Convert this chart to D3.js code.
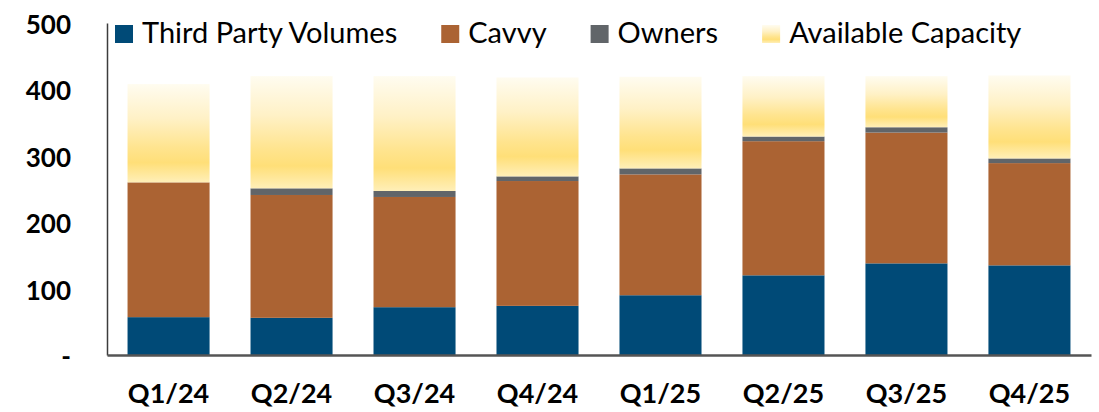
<!DOCTYPE html>
<html>
<head>
<meta charset="utf-8">
<script src="https://cdn.jsdelivr.net/npm/d3@7"></script>
<style>
  body { margin:0; background:#fff; }
  #canvas { width:1099px; height:412px; }
  text { font-family: Lato, "Open Sans", sans-serif; fill:#000; }
</style>
</head>
<body>
<div id="canvas" class="canvas"></div>
<script>
// data
var quarters = ['Q1/24','Q2/24','Q3/24','Q4/24','Q1/25','Q2/25','Q3/25','Q4/25'];
var thirdParty = [57, 56, 72, 74, 90, 120, 138, 135];
var cavvy      = [203, 185, 166, 188, 182, 202, 197, 154];
var owners     = [0, 10, 9, 7, 9, 7, 8, 7];
var capacity   = [148, 169, 173, 149, 138, 91, 77, 125];
var yTicks     = [0, 100, 200, 300, 400, 500];
var seriesNames = ['Third Party Volumes','Cavvy','Owners','Available Capacity'];

var colors = ['#004a77', '#ab6333', '#616569', 'url(#capGrad)'];

var W = 1099, H = 412;
var m = {t:23, r:8, b:57, l:107};
var w = W - m.l - m.r,
    h = H - m.t - m.b;

var svg = d3.select('.canvas')
    .append('svg')
    .attr('width', W)
    .attr('height', H);

// gradient for available capacity
var defs = svg.append('defs');
var grad = defs.append('linearGradient')
    .attr('id','capGrad')
    .attr('x1',0).attr('y1',0).attr('x2',0).attr('y2',1);
grad.append('stop').attr('offset','0%').attr('stop-color','#fffcf0');
grad.append('stop').attr('offset','35%').attr('stop-color','#fff1c6');
grad.append('stop').attr('offset','65%').attr('stop-color','#ffe48e');
grad.append('stop').attr('offset','80%').attr('stop-color','#ffdf78');
grad.append('stop').attr('offset','100%').attr('stop-color','#ffefb8');

var plot = svg.append('g')
    .attr('transform','translate(' + m.l + ',' + m.t + ')');

var rows = quarters.map(function(q, i){
  return {q:q, third:thirdParty[i], cavvy:cavvy[i], owners:owners[i], cap:capacity[i]};
});
var keys = ['third','cavvy','owners','cap'];
var stacked = d3.stack().keys(keys)(rows);

var scaleX = d3.scaleBand()
    .domain(quarters)
    .range([0, w])
    .paddingInner(0.333)
    .paddingOuter(0.167);
var scaleY = d3.scaleLinear()
    .domain([0, 500])
    .range([h, 0]);

// bars
var layers = plot.selectAll('.layer')
    .data(stacked)
    .enter()
    .append('g')
    .attr('class','layer')
    .attr('fill', function(d, i){ return colors[i]; });

layers.selectAll('rect')
    .data(function(d){ return d; })
    .enter()
    .append('rect')
    .attr('x', function(d){ return scaleX(d.data.q); })
    .attr('width', scaleX.bandwidth())
    .attr('y', function(d){ return scaleY(d[1]); })
    .attr('height', function(d){ return scaleY(d[0]) - scaleY(d[1]); });

// axes
var axisY = d3.axisLeft(scaleY)
    .tickValues(yTicks)
    .tickSize(0)
    .tickPadding(36)
    .tickFormat(function(d){ return d === 0 ? '-' : d; });
var gy = plot.append('g').attr('class','axis axis-y').call(axisY);
gy.select('.domain').attr('stroke','#3c3c3c').attr('stroke-width',1.5);
gy.selectAll('text')
    .attr('dy','0.4em')
    .style('font-family','Lato, sans-serif')
    .style('font-size','26px')
    .style('font-weight','bold')
    .attr('fill','#000');

var axisX = d3.axisBottom(scaleX)
    .tickSize(0)
    .tickPadding(29);
var gx = plot.append('g').attr('class','axis axis-x')
    .attr('transform','translate(0,' + h + ')')
    .call(axisX);
gx.select('.domain').attr('stroke','#555').attr('stroke-width',2.5);
gx.selectAll('text')
    .style('font-family','Lato, sans-serif')
    .style('font-size','27px')
    .style('font-weight','bold')
    .attr('fill','#000');

// legend
var legend = svg.append('g').attr('transform','translate(115,25)');
var lx = 0;
seriesNames.forEach(function(name, i){
  var item = legend.append('g').attr('transform','translate(' + lx + ',0)');
  item.append('rect')
      .attr('width',18).attr('height',18)
      .attr('fill', colors[i]);
  var t = item.append('text')
      .attr('x',27).attr('y',18)
      .style('font-size','29px')
      .text(name);
  lx += 27 + t.node().getComputedTextLength() + 44;
});
</script>
</body>
</html>
